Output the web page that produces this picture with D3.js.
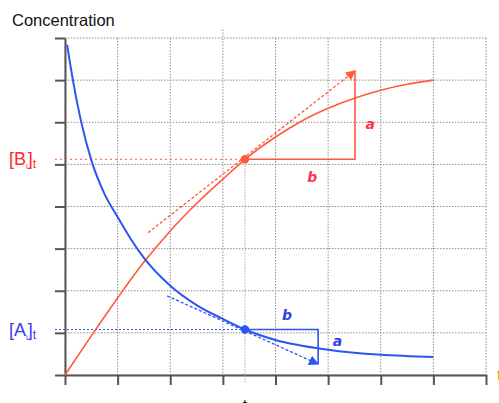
<!DOCTYPE html>
<html>
<head>
<meta charset="utf-8">
<script src="https://cdn.jsdelivr.net/npm/d3@7"></script>
<style>
  body { margin: 0; background: #fff; }
  svg { display: block; font-family: "Liberation Sans", Arial, sans-serif; }
</style>
</head>
<body>
<svg id="chart" width="499" height="403"></svg>
<script>
// curves (time, concentration)
const productB = [[0,0],[0.5,0.93],[1,1.83],[1.5,2.68],[2,3.42],[2.5,4.07],[3,4.65],[3.42,5.12],
    [4,5.65],[4.5,6.03],[5,6.33],[5.5,6.57],[6,6.76],[6.5,6.9],[7,7.0]];
const reactantA = [[0.04,7.84],[0.15,7.0],[0.3,6.05],[0.5,5.1],[0.75,4.3],[1,3.75],[1.25,3.23],
    [1.5,2.78],[2,2.12],[2.5,1.66],[3,1.33],[3.42,1.08],[4,0.83],[5,0.6],[6,0.48],[7,0.43]];
const tNow = 3.42;
const bNow = 5.12;
const aNow = 1.08;
// tangent segments: [start, arrow tip]
const tangentB = [[1.58,3.38],[5.51,7.22]];
const tangentA = [[1.94,1.88],[4.81,0.26]];
const gridTicks = [0,1,2,3,4,5,6,7,8];

const colorB = "#ff5a3c", colorA = "#2f55f0";

const svg = d3.select("#chart");
const margin = {top: 38, left: 65};
const width = 421, height = 337;

const x = d3.scaleLinear().domain([0, 8]).range([0, width]);
const y = d3.scaleLinear().domain([0, 8]).range([height, 0]);

const g = svg.append("g").attr("transform", "translate(" + margin.left + "," + margin.top + ")");

svg.append("defs").selectAll("marker")
    .data([["arrB", colorB], ["arrA", colorA]])
    .enter().append("marker")
    .attr("id", d => d[0])
    .attr("viewBox", "0 0 10 10")
    .attr("refX", 9).attr("refY", 5)
    .attr("markerWidth", 10).attr("markerHeight", 10)
    .attr("markerUnits", "userSpaceOnUse")
    .attr("orient", "auto")
    .append("path").attr("d", "M0,0L10,5L0,10z").attr("fill", d => d[1]);

// grid
const grid = g.append("g").attr("stroke", "#8c8c8c").attr("stroke-dasharray", "1.5,1.5").attr("stroke-width", 1);
grid.selectAll(".vg").data(gridTicks).enter().append("line")
    .attr("x1", d => x(d)).attr("x2", d => x(d))
    .attr("y1", d => d === 3 ? y(8.2) : y(8)).attr("y2", y(0));
grid.selectAll(".hg").data(gridTicks).enter().append("line")
    .attr("x1", x(0)).attr("x2", x(8))
    .attr("y1", d => y(d)).attr("y2", d => y(d));

// axes
const xAxis = g.append("g").attr("transform", "translate(0," + height + ")")
    .call(d3.axisBottom(x).tickValues(gridTicks).tickSize(10).tickSizeOuter(0).tickFormat(""));
const yAxis = g.append("g")
    .call(d3.axisLeft(y).tickValues(gridTicks).tickSize(10).tickSizeOuter(0).tickFormat(""));
[xAxis, yAxis].forEach(a => {
    a.selectAll("path, line").attr("stroke", "#555").attr("stroke-width", 2);
});

// guide lines to the time point
g.append("line").attr("x1", -10).attr("x2", x(tNow)).attr("y1", y(bNow)).attr("y2", y(bNow))
    .attr("stroke", colorB).attr("stroke-dasharray", "2,3").attr("stroke-width", 1);
g.append("line").attr("x1", -10).attr("x2", x(tNow)).attr("y1", y(aNow)).attr("y2", y(aNow))
    .attr("stroke", colorA).attr("stroke-dasharray", "2,2").attr("stroke-width", 1);
g.append("line").attr("x1", x(tNow)).attr("x2", x(tNow)).attr("y1", y(bNow)).attr("y2", height + 9)
    .attr("stroke", "#aab").attr("stroke-dasharray", "1.5,1.5").attr("stroke-width", 1);

// curves
const line = d3.line().x(d => x(d[0])).y(d => y(d[1])).curve(d3.curveMonotoneX);
g.append("path").datum(productB).attr("d", line)
    .attr("fill", "none").attr("stroke", colorB).attr("stroke-width", 1.6);
g.append("path").datum(reactantA).attr("d", line)
    .attr("fill", "none").attr("stroke", colorA).attr("stroke-width", 2);

// slope triangles
function slopeTriangle (tan, level, col, marker) {
    const tip = tan[1];
    g.append("path")
        .attr("d", "M" + x(tNow) + "," + y(level) + "H" + x(tip[0]) + "V" + y(tip[1]))
        .attr("fill", "none").attr("stroke", col).attr("stroke-width", 1.6);
    g.append("line")
        .attr("x1", x(tan[0][0])).attr("y1", y(tan[0][1]))
        .attr("x2", x(tip[0])).attr("y2", y(tip[1]))
        .attr("stroke", col).attr("stroke-width", 1.3).attr("stroke-dasharray", "3,2")
        .attr("marker-end", "url(#" + marker + ")");
    g.append("circle").attr("cx", x(tNow)).attr("cy", y(level)).attr("r", 4.2).attr("fill", col);
}
slopeTriangle(tangentB, bNow, colorB, "arrB");
slopeTriangle(tangentA, aNow, colorA, "arrA");

// a / b labels
const lab = [
    {t: "b", x: 4.7, y: 4.58, c: "#ff3355"},
    {t: "a", x: 5.8, y: 5.85, c: "#ff3355"},
    {t: "b", x: 4.22, y: 1.3, c: "#3340e8"},
    {t: "a", x: 5.18, y: 0.68, c: "#3340e8"}
];
g.selectAll(".ab").data(lab).enter().append("text")
    .attr("x", d => x(d.x)).attr("y", d => y(d.y))
    .attr("text-anchor", "middle")
    .attr("font-family", "'DejaVu Sans', sans-serif")
    .attr("font-style", "italic").attr("font-weight", "bold")
    .attr("font-size", 14).attr("fill", d => d.c)
    .text(d => d.t);

// title and side labels
svg.append("text").attr("x", 12).attr("y", 26).attr("font-size", 16.5).attr("fill", "#111")
    .text("Concentration");

function concLabel (letter, level, col) {
    const t = svg.append("text").attr("x", 9).attr("y", margin.top + y(level) + 6)
        .attr("font-size", 18).attr("fill", col);
    t.append("tspan").text("[" + letter);
    t.append("tspan").attr("font-size", 8).attr("dy", 4).text("i");
    t.append("tspan").attr("dy", -4).text("]");
    t.append("tspan").attr("font-size", 12).attr("dy", 3).text("t");
}
concLabel("B", bNow, "#ff2a2a");
concLabel("A", aNow, "#3a3ae8");

// time labels, cut by the page edge as in the original
svg.append("text").attr("x", margin.left + x(tNow)).attr("y", 411).attr("text-anchor", "middle")
    .attr("font-size", 16).attr("fill", "#222").text("t");
svg.append("text").attr("x", 497).attr("y", 381)
    .attr("font-size", 16).attr("fill", "#e0a000").text("t");
</script>
</body>
</html>
